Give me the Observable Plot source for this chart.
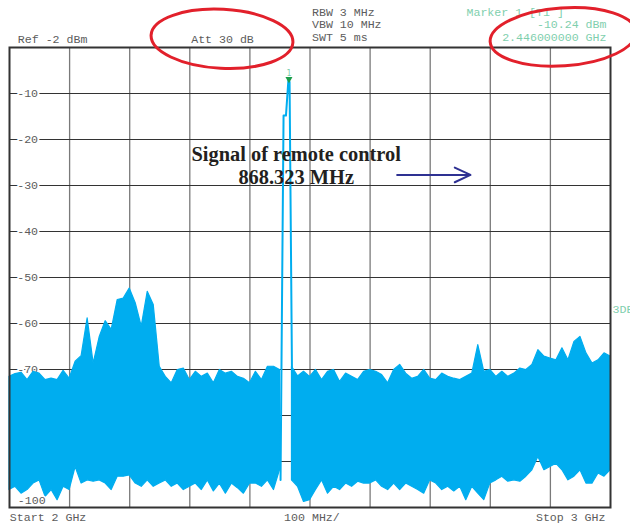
<!DOCTYPE html>
<html>
<head>
<meta charset="utf-8">
<script src="https://cdn.jsdelivr.net/npm/d3@7"></script>
<script src="https://cdn.jsdelivr.net/npm/@observablehq/plot@0.6"></script>
<style>
  html, body { margin: 0; padding: 0; background: #fff; }
  #chart svg { display: block; }
</style>
</head>
<body>
<div id="chart"></div>
<script>
// ---- Data ----
const freqMHz = [
  2000,2010,2020,2030,2040,2050,2060,2070,2080,2090,
  2100,2110,2120,2130,2140,2150,2160,2170,2180,2190,
  2200,2210,2220,2230,2240,2250,2260,2270,2280,2290,
  2300,2310,2320,2330,2340,2350,2360,2370,2380,2390,
  2400,2410,2420,2430,2440,2450,2460,2470,2480,2490,
  2500,2510,2520,2530,2540,2550,2560,2570,2580,2590,
  2600,2610,2620,2630,2640,2650,2660,2670,2680,2690,
  2700,2710,2720,2730,2740,2750,2760,2770,2780,2790,
  2800,2810,2820,2830,2840,2850,2860,2870,2880,2890,
  2900,2910,2920,2930,2940,2950,2960,2970,2980,2990,
  3000
];
// upper edge of the noise trace (dBm)
const traceTop = [
  -71.6,-71.0,-70.7,-72.3,-70.5,-70.9,-72.3,-72.0,-72.3,-70.3,
  -72.0,-68.3,-67.1,-58.9,-68.7,-63.0,-59.5,-61.4,-54.9,-54.6,
  -52.4,-55.6,-60.7,-53.1,-56.0,-69.4,-71.6,-73.0,-70.1,-69.8,
  -72.3,-70.5,-71.6,-70.9,-73.0,-70.1,-70.9,-70.5,-71.6,-72.0,
  -73.0,-70.5,-72.3,-69.4,-69.4,-70.1,null,-69.4,-71.5,-70.5,
  -71.6,-70.1,-72.3,-70.5,-70.1,-72.7,-70.9,-71.6,-72.3,-70.5,
  -70.1,-70.5,-71.2,-73.0,-70.1,-69.0,-70.9,-72.0,-71.6,-70.1,
  -72.0,-72.3,-70.9,-71.6,-72.0,-72.3,-71.6,-70.9,-64.7,-70.5,
  -70.1,-71.6,-70.5,-71.6,-70.9,-69.8,-70.1,-69.0,-65.8,-67.2,
  -67.6,-68.0,-65.4,-68.0,-64.0,-62.9,-66.5,-68.7,-68.0,-66.5,
  -67.2
];
// lower edge of the noise trace (dBm)
const traceBottom = [
  -96.2,-95.5,-97.0,-96.2,-94.8,-94.1,-97.7,-96.2,-98.4,-95.5,
  -96.2,-91.2,-94.8,-94.1,-94.4,-94.1,-94.8,-96.2,-93.3,-93.3,
  -93.0,-94.8,-95.5,-94.1,-95.5,-94.8,-94.1,-95.5,-94.8,-96.2,
  -95.5,-94.8,-96.2,-94.1,-96.5,-94.8,-97.0,-94.8,-95.8,-97.0,
  -94.8,-94.8,-95.5,-94.1,-96.2,-91.9,null,-94.1,-95.5,-98.8,
  -98.4,-96.2,-94.1,-97.0,-95.5,-96.2,-94.8,-95.5,-94.4,-94.8,
  -94.8,-94.1,-95.5,-96.2,-94.8,-96.2,-94.8,-95.5,-96.2,-97.0,
  -94.1,-94.8,-96.2,-95.5,-96.5,-95.5,-98.4,-95.5,-97.0,-98.4,
  -94.8,-94.1,-93.3,-94.4,-94.1,-94.4,-93.3,-91.9,-89.0,-91.9,
  -91.2,-90.5,-91.9,-94.1,-93.3,-91.9,-94.8,-94.8,-92.6,-93.3,
  -91.9
];
// the carrier peak
const peakFreq  = [2451, 2452.5, 2456, 2460, 2464, 2466, 2470, 2471];
const peakLevel = [-94, -70, -14.8, -14.8, -7.2, -7.5, -70, -94];
const markerFreq = [2465];
const markerLevel = [-7.2];

const xGrid = [2100,2200,2300,2400,2500,2600,2700,2800,2900];
const yGrid = [-10,-20,-30,-40,-50,-60,-70,-80,-90];
const yTickLabels = [-10,-20,-30,-40,-50,-60,-70,-80,-90,-100];

const headerLeft = ["Ref -2 dBm", "Att 30 dB"];
const sweepSettings = ["RBW 3 MHz", "VBW 10 MHz", "SWT 5 ms"];
const markerInfo = ["Marker 1 [T1 ]", "-10.24 dBm", "2.446000000 GHz"];
const footer = ["Start 2 GHz", "100 MHz/", "Stop 3 GHz"];
const sideLabel = ["3DB"];
const annotationLines = ["Signal of remote control", "868.323 MHz"];

// ---- Build ----
const rows = freqMHz.map((f, i) => ({f, top: traceTop[i], bottom: traceBottom[i]}));
const peak = peakFreq.map((f, i) => ({f, level: peakLevel[i]}));
const marker = markerFreq.map((f, i) => ({f, level: markerLevel[i]}));
const annotation = [{f: 2477, level: -29.57, text: annotationLines.join("\n")}];
const arrowSpec = [{x1: 2645, x2: 2767, y: -27.7}];
const circled = [
  {f: 2354.4, level: 1.78, rx: 71, ry: 29.5, rot: 3},
  {f: 2921.8, level: 2.2, rx: 73, ry: 29, rot: -4}
];

const mono = "Liberation Mono, DejaVu Sans Mono, monospace";
const gray = "#5c5c5c";
const green = "#7fcfae";
const cyan = "#00adef";
const fs = 11.6;
const monoText = {fontFamily: mono, fontSize: fs, fill: gray, lineAnchor: "bottom", textAnchor: "start"};

function redEllipses(index, scales) {
  const g = d3.create("svg:g");
  for (const e of circled) {
    const cx = scales.x(e.f), cy = scales.y(e.level);
    g.append("ellipse")
      .attr("cx", 0).attr("cy", 0).attr("rx", e.rx).attr("ry", e.ry)
      .attr("transform", `translate(${cx},${cy}) rotate(${e.rot})`)
      .attr("fill", "none").attr("stroke", "#e2202b").attr("stroke-width", 3);
  }
  return g.node();
}

const chart = Plot.plot({
  width: 630,
  height: 524,
  marginTop: 47,
  marginBottom: 17,
  marginLeft: 9,
  marginRight: 20,
  x: {domain: [2000, 3000], axis: null},
  y: {domain: [-100, 0], axis: null},
  style: {background: "#fff", fontFamily: mono},
  marks: [
    Plot.ruleX(xGrid, {stroke: "#7a7a7a", strokeWidth: 1.3}),
    Plot.ruleY(yGrid, {stroke: "#333", strokeWidth: 1.2}),
    Plot.text(yTickLabels.filter(d => d > -100), {
      y: d => d, text: d => String(d), frameAnchor: "left", dx: 7.7,
      textAnchor: "start", lineAnchor: "middle",
      fontFamily: mono, fontSize: fs, fill: gray, stroke: "white", strokeWidth: 4
    }),
    Plot.areaY(rows, {x: "f", y1: "bottom", y2: "top", fill: cyan, stroke: cyan, strokeWidth: 1.2, curve: "linear"}),
    Plot.line(peak, {x: "f", y: "level", stroke: cyan, strokeWidth: 2}),
    Plot.text(yTickLabels.filter(d => d === -100), {
      y: d => d, text: d => String(d), frameAnchor: "left", dx: 8.3, dy: -4,
      textAnchor: "start", lineAnchor: "bottom",
      fontFamily: mono, fontSize: fs, fill: gray, stroke: "white", strokeWidth: 3
    }),
    Plot.frame({stroke: "#333", strokeWidth: 2}),
    // marker
    Plot.dot(marker, {x: "f", y: "level", symbol: "triangle", rotate: 180, r: 2.6, fill: "#1c9e4a", dy: -1.5}),
    Plot.text(marker, {x: "f", y: "level", text: () => "1", dy: -4.5, lineAnchor: "bottom", fontSize: 8, fontFamily: "DejaVu Sans", fill: green}),
    // header
    Plot.text([headerLeft[0]], {...monoText, frameAnchor: "top-left", dx: 8.3, dy: -4.5}),
    Plot.text([headerLeft[1]], {...monoText, frameAnchor: "top-left", dx: 181.7, dy: -4.5}),
    Plot.text([sweepSettings.join("\n")], {...monoText, frameAnchor: "top-left", dx: 302.5, dy: -6.5, lineHeight: 1.08}),
    Plot.text([markerInfo[0]], {...monoText, fill: green, frameAnchor: "top-left", dx: 457, dy: -31.5}),
    Plot.text([markerInfo.slice(1).join("\n")], {...monoText, fill: green, textAnchor: "end", frameAnchor: "top-right", dx: -4, dy: -6.5, lineHeight: 1.08}),
    // footer
    Plot.text([footer[0]], {...monoText, frameAnchor: "bottom-left", dx: 0.3, dy: 13.5}),
    Plot.text([footer[1]], {...monoText, frameAnchor: "bottom-left", dx: 274.6, dy: 13.5}),
    Plot.text([footer[2]], {...monoText, textAnchor: "end", frameAnchor: "bottom-right", dx: -5, dy: 13.5}),
    Plot.text(sideLabel, {...monoText, fill: green, frameAnchor: "right", dx: 2, dy: 35}),
    // annotation
    Plot.text(annotation, {
      x: "f", y: "level", text: "text", textAnchor: "middle", lineAnchor: "bottom",
      lineHeight: 1.1, fontFamily: "Liberation Serif, Times New Roman, serif",
      fontWeight: "bold", fontSize: 20.4, fill: "#231f20"
    }),
    Plot.arrow(arrowSpec, {x1: "x1", x2: "x2", y1: "y", y2: "y", stroke: "#2e3192", strokeWidth: 2, headLength: 13, headAngle: 50}),
    redEllipses
  ]
});
document.getElementById("chart").appendChild(chart);
</script>
</body>
</html>
